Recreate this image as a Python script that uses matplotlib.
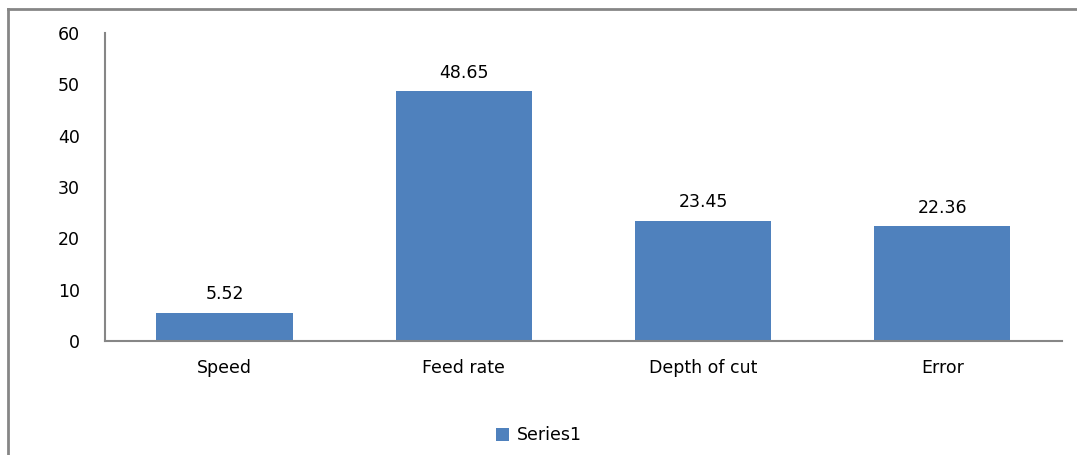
import matplotlib
matplotlib.use("Agg")
import matplotlib.pyplot as plt
from matplotlib.lines import Line2D

plt.rcParams["font.family"] = ["DejaVu Sans"]

categories = ["Speed", "Feed rate", "Depth of cut", "Error"]
values = [5.52, 48.65, 23.45, 22.36]
labels = ["5.52", "48.65", "23.45", "22.36"]
yticks = [0, 10, 20, 30, 40, 50, 60]

bar_color = "#4f81bd"
grey = "#868686"
fs = 12.5

fig = plt.figure(figsize=(10.77, 4.55), dpi=100)
ax = fig.add_axes([0.0975, 0.2505, 0.8885, 0.677])

x = list(range(len(categories)))
bars = ax.bar(x, values, width=0.57, color=bar_color, label="Series1")
for xi, v, lab in zip(x, values, labels):
    ax.text(xi, v + 1.8, lab, ha="center", va="bottom", fontsize=fs)

ax.set_xlim(-0.5, len(categories) - 0.5)
ax.set_ylim(0, 60)
ax.set_yticks(yticks)
ax.set_xticks(x)
ax.set_xticklabels(categories, fontsize=fs)
ax.tick_params(axis="y", length=0, pad=18, labelsize=fs)
ax.tick_params(axis="x", length=0, pad=13)

for s in ["top", "right"]:
    ax.spines[s].set_visible(False)
for s in ["left", "bottom"]:
    ax.spines[s].set_color(grey)
    ax.spines[s].set_linewidth(1.5)

fig.legend(handles=[bars], labels=["Series1"], loc="center", bbox_to_anchor=(0.5, 0.043),
           frameon=False, fontsize=fs, handlelength=0.8, handleheight=0.8, handletextpad=0.4)

# outer frame (top and left only)
fig.add_artist(Line2D([8 / 1077, 1], [1 - 9 / 455, 1 - 9 / 455], color=grey, linewidth=2, transform=fig.transFigure))
fig.add_artist(Line2D([8 / 1077, 8 / 1077], [0, 1 - 9 / 455], color=grey, linewidth=2, transform=fig.transFigure))

fig.savefig("out.png", dpi=100)
